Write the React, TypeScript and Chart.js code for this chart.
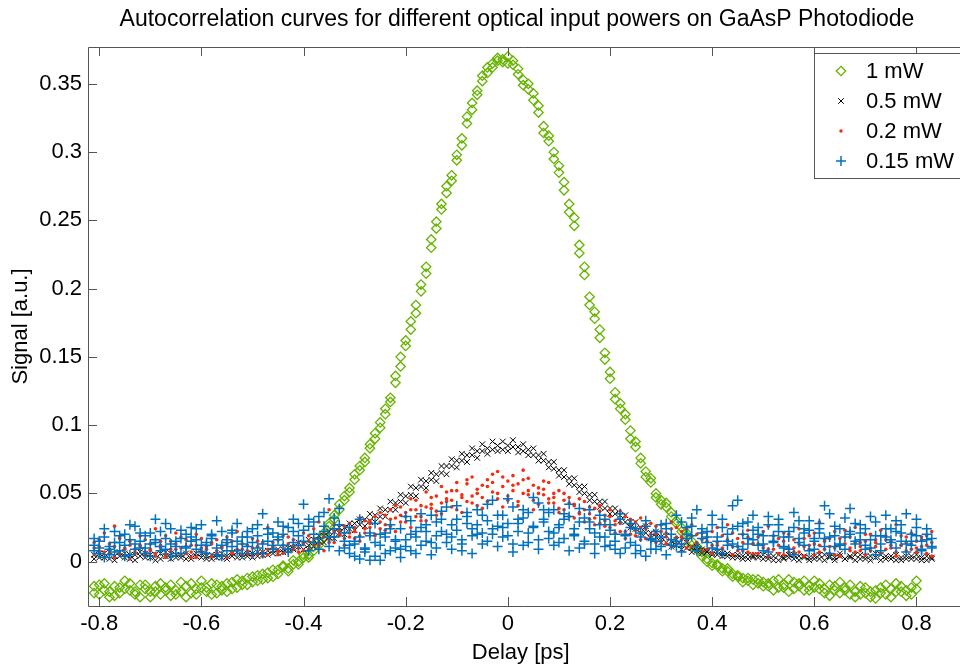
import React, { useEffect, useRef } from 'react';
import { Chart, registerables } from 'chart.js';

Chart.register(...registerables);

// ---------- data ----------
const delay = [
  -0.81, -0.8, -0.79, -0.78, -0.77, -0.76, -0.75, -0.74, -0.73, -0.72,
  -0.71, -0.7, -0.69, -0.68, -0.67, -0.66, -0.65, -0.64, -0.63, -0.62,
  -0.61, -0.6, -0.59, -0.58, -0.57, -0.56, -0.55, -0.54, -0.53, -0.52,
  -0.51, -0.5, -0.49, -0.48, -0.47, -0.46, -0.45, -0.44, -0.43, -0.42,
  -0.41, -0.4, -0.39, -0.38, -0.37, -0.36, -0.35, -0.34, -0.33, -0.32,
  -0.31, -0.3, -0.29, -0.28, -0.27, -0.26, -0.25, -0.24, -0.23, -0.22,
  -0.21, -0.2, -0.19, -0.18, -0.17, -0.16, -0.15, -0.14, -0.13, -0.12,
  -0.11, -0.1, -0.09, -0.08, -0.07, -0.06, -0.05, -0.04, -0.03, -0.02,
  -0.01, 0.0, 0.01, 0.02, 0.03, 0.04, 0.05, 0.06, 0.07, 0.08,
  0.09, 0.1, 0.11, 0.12, 0.13, 0.14, 0.15, 0.16, 0.17, 0.18,
  0.19, 0.2, 0.21, 0.22, 0.23, 0.24, 0.25, 0.26, 0.27, 0.28,
  0.29, 0.3, 0.31, 0.32, 0.33, 0.34, 0.35, 0.36, 0.37, 0.38,
  0.39, 0.4, 0.41, 0.42, 0.43, 0.44, 0.45, 0.46, 0.47, 0.48,
  0.49, 0.5, 0.51, 0.52, 0.53, 0.54, 0.55, 0.56, 0.57, 0.58,
  0.59, 0.6, 0.61, 0.62, 0.63, 0.64, 0.65, 0.66, 0.67, 0.68,
  0.69, 0.7, 0.71, 0.72, 0.73, 0.74, 0.75, 0.76, 0.77, 0.78,
  0.79, 0.8, 0.81, 0.82, 0.83,
];

// 1 mW (two scans)
const signal1mWScanA = [
  -0.018, -0.024, -0.016, -0.022, -0.025, -0.019, -0.014, -0.021, -0.024, -0.017,
  -0.020, -0.026, -0.022, -0.016, -0.019, -0.025, -0.021, -0.015, -0.018, -0.023,
  -0.020, -0.014, -0.019, -0.024, -0.017, -0.021, -0.016, -0.020, -0.013, -0.017,
  -0.012, -0.015, -0.010, -0.013, -0.008, -0.011, -0.006, -0.004, -0.007, -0.002,
  0.000, 0.003, 0.005, 0.008, 0.012, 0.018, 0.026, 0.034, 0.042, 0.048,
  0.054, 0.060, 0.067, 0.076, 0.083, 0.090, 0.098, 0.108, 0.120, 0.131,
  0.150, 0.158, 0.170, 0.188, 0.198, 0.216, 0.230, 0.244, 0.258, 0.270,
  0.283, 0.294, 0.310, 0.321, 0.331, 0.342, 0.352, 0.362, 0.365, 0.367,
  0.366, 0.370, 0.364, 0.357, 0.353, 0.350, 0.338, 0.329, 0.319, 0.308,
  0.300, 0.290, 0.272, 0.262, 0.246, 0.226, 0.210, 0.194, 0.178, 0.164,
  0.148, 0.134, 0.124, 0.116, 0.104, 0.096, 0.084, 0.076, 0.066, 0.058,
  0.050, 0.045, 0.040, 0.036, 0.030, 0.025, 0.019, 0.015, 0.011, 0.007,
  0.002, -0.001, -0.003, -0.005, -0.007, -0.009, -0.011, -0.012, -0.014, -0.013,
  -0.016, -0.015, -0.018, -0.014, -0.019, -0.017, -0.013, -0.020, -0.016, -0.021,
  -0.018, -0.014, -0.020, -0.023, -0.017, -0.021, -0.015, -0.019, -0.024, -0.022,
  -0.018, -0.023, -0.026, -0.021, -0.019, -0.024, -0.020, -0.016, -0.022, -0.025,
  -0.019, -0.014, null, null, null,
];
const signal1mWScanB = [
  -0.023, -0.017, -0.021, -0.026, -0.018, -0.023, -0.020, -0.016, -0.022, -0.026,
  -0.017, -0.022, -0.018, -0.024, -0.021, -0.017, -0.024, -0.022, -0.026, -0.016,
  -0.024, -0.019, -0.022, -0.016, -0.023, -0.018, -0.022, -0.015, -0.019, -0.014,
  -0.017, -0.011, -0.014, -0.009, -0.012, -0.006, -0.009, -0.003, -0.005, 0.001,
  -0.002, 0.005, 0.003, 0.011, 0.015, 0.021, 0.028, 0.031, 0.038, 0.045,
  0.051, 0.064, 0.070, 0.073, 0.086, 0.094, 0.102, 0.112, 0.117, 0.136,
  0.143, 0.162, 0.176, 0.182, 0.203, 0.211, 0.236, 0.249, 0.262, 0.275,
  0.279, 0.298, 0.305, 0.326, 0.336, 0.345, 0.356, 0.358, 0.362, 0.369,
  0.368, 0.365, 0.367, 0.361, 0.349, 0.346, 0.343, 0.334, 0.314, 0.312,
  0.295, 0.285, 0.278, 0.256, 0.252, 0.232, 0.216, 0.188, 0.183, 0.170,
  0.153, 0.139, 0.119, 0.112, 0.108, 0.090, 0.088, 0.072, 0.062, 0.061,
  0.047, 0.042, 0.043, 0.033, 0.028, 0.022, 0.021, 0.012, 0.009, 0.004,
  0.000, -0.003, -0.002, -0.007, -0.005, -0.011, -0.010, -0.015, -0.012, -0.017,
  -0.013, -0.018, -0.016, -0.021, -0.013, -0.019, -0.022, -0.015, -0.018, -0.014,
  -0.021, -0.019, -0.016, -0.020, -0.025, -0.018, -0.023, -0.021, -0.017, -0.026,
  -0.024, -0.019, -0.022, -0.027, -0.023, -0.017, -0.026, -0.022, -0.018, -0.021,
  -0.024, -0.020, null, null, null,
];

// 0.5 mW (two scans)
const signal05mWScanA = [
  0.005, 0.003, 0.006, 0.002, 0.004, 0.007, 0.003, 0.005, 0.001, 0.004,
  0.006, 0.003, 0.005, 0.002, 0.004, 0.006, 0.003, 0.005, 0.002, 0.004,
  0.006, 0.003, 0.004, 0.002, 0.005, 0.003, 0.004, 0.006, 0.003, 0.005,
  0.004, 0.006, 0.004, 0.007, 0.005, 0.008, 0.006, 0.009, 0.008, 0.010,
  0.011, 0.013, 0.012, 0.016, 0.015, 0.019, 0.018, 0.022, 0.021, 0.025,
  0.024, 0.028, 0.027, 0.031, 0.030, 0.034, 0.033, 0.038, 0.038, 0.043,
  0.044, 0.048, 0.049, 0.054, 0.055, 0.059, 0.060, 0.064, 0.065, 0.070,
  0.070, 0.074, 0.074, 0.078, 0.078, 0.081, 0.081, 0.083, 0.082, 0.085,
  0.082, 0.085, 0.084, 0.084, 0.081, 0.082, 0.078, 0.078, 0.074, 0.073,
  0.068, 0.067, 0.062, 0.061, 0.056, 0.055, 0.050, 0.049, 0.044, 0.044,
  0.039, 0.039, 0.035, 0.034, 0.029, 0.029, 0.024, 0.025, 0.021, 0.021,
  0.018, 0.018, 0.014, 0.015, 0.012, 0.012, 0.010, 0.010, 0.008, 0.009,
  0.007, 0.006, 0.005, 0.006, 0.004, 0.005, 0.003, 0.004, 0.002, 0.004,
  0.003, 0.005, 0.002, 0.004, 0.001, 0.003, 0.005, 0.002, 0.004, 0.003,
  0.001, 0.004, 0.002, 0.005, 0.003, 0.001, 0.004, 0.002, 0.003, 0.005,
  0.002, 0.004, 0.001, 0.003, 0.005, 0.002, 0.004, 0.001, 0.003, 0.002,
  0.004, 0.002, 0.003, 0.001, 0.003,
];
const signal05mWScanB = [
  0.002, 0.006, 0.003, 0.007, 0.001, 0.004, 0.006, 0.002, 0.005, 0.007,
  0.003, 0.005, 0.001, 0.006, 0.007, 0.002, 0.005, 0.003, 0.006, 0.002,
  0.004, 0.006, 0.002, 0.005, 0.003, 0.006, 0.002, 0.004, 0.007, 0.003,
  0.006, 0.003, 0.007, 0.005, 0.008, 0.006, 0.009, 0.007, 0.010, 0.009,
  0.014, 0.009, 0.016, 0.011, 0.019, 0.014, 0.022, 0.017, 0.025, 0.020,
  0.028, 0.023, 0.031, 0.026, 0.035, 0.029, 0.039, 0.033, 0.044, 0.038,
  0.049, 0.043, 0.055, 0.048, 0.060, 0.054, 0.065, 0.059, 0.070, 0.064,
  0.075, 0.069, 0.079, 0.073, 0.083, 0.076, 0.086, 0.079, 0.088, 0.081,
  0.088, 0.081, 0.089, 0.080, 0.086, 0.078, 0.083, 0.074, 0.079, 0.069,
  0.073, 0.063, 0.067, 0.057, 0.061, 0.051, 0.055, 0.045, 0.049, 0.040,
  0.044, 0.035, 0.039, 0.030, 0.034, 0.025, 0.029, 0.021, 0.026, 0.017,
  0.022, 0.014, 0.019, 0.011, 0.016, 0.009, 0.014, 0.007, 0.011, 0.006,
  0.008, 0.005, 0.007, 0.004, 0.006, 0.003, 0.005, 0.002, 0.005, 0.003,
  0.005, 0.002, 0.004, 0.001, 0.005, 0.002, 0.003, 0.005, 0.001, 0.004,
  0.003, 0.002, 0.005, 0.001, 0.004, 0.003, 0.006, 0.002, 0.004, 0.001,
  0.005, 0.002, 0.004, 0.006, 0.001, 0.004, 0.002, 0.005, 0.001, 0.004,
  0.002, 0.005, 0.001, 0.004, 0.002,
];

// 0.2 mW (three scans)
const signal02mWScanA = [
  0.014, 0.008, 0.021, 0.006, 0.011, 0.017, 0.004, 0.012, 0.009, 0.019,
  0.007, 0.013, 0.024, 0.010, 0.005, 0.015, 0.009, 0.018, 0.006, 0.012,
  0.020, 0.008, 0.011, 0.004, 0.016, 0.010, 0.013, 0.007, 0.022, 0.009,
  0.012, 0.017, 0.006, 0.014, 0.025, 0.011, 0.008, 0.019, 0.013, 0.016,
  0.010, 0.021, 0.015, 0.012, 0.029, 0.018, 0.014, 0.022, 0.019, 0.026,
  0.021, 0.017, 0.032, 0.024, 0.028, 0.020, 0.036, 0.027, 0.031, 0.041,
  0.034, 0.029, 0.046, 0.038, 0.033, 0.051, 0.042, 0.037, 0.055, 0.046,
  0.040, 0.058, 0.049, 0.044, 0.062, 0.053, 0.047, 0.060, 0.051, 0.066,
  0.055, 0.048, 0.063, 0.057, 0.050, 0.061, 0.045, 0.054, 0.049, 0.058,
  0.043, 0.052, 0.038, 0.047, 0.041, 0.035, 0.044, 0.031, 0.039, 0.028,
  0.034, 0.025, 0.030, 0.037, 0.022, 0.027, 0.019, 0.032, 0.024, 0.018,
  0.026, 0.015, 0.021, 0.029, 0.013, 0.018, 0.024, 0.011, 0.020, 0.016,
  0.009, 0.022, 0.014, 0.019, 0.027, 0.011, 0.017, 0.008, 0.023, 0.013,
  0.018, 0.010, 0.026, 0.015, 0.012, 0.021, 0.007, 0.016, 0.024, 0.011,
  0.019, 0.013, 0.029, 0.009, 0.017, 0.022, 0.012, 0.018, 0.008, 0.025,
  0.014, 0.020, 0.010, 0.016, 0.023, 0.009, 0.015, 0.027, 0.012, 0.018,
  0.021, 0.010, 0.016, 0.006, 0.022,
];
const signal02mWScanB = [
  0.005, 0.011, 0.003, 0.009, 0.026, 0.006, 0.010, 0.002, 0.007, 0.012,
  0.004, 0.008, 0.006, 0.015, 0.003, 0.009, 0.021, 0.005, 0.011, 0.007,
  0.003, 0.010, 0.006, 0.013, 0.008, 0.004, 0.018, 0.006, 0.009, 0.005,
  0.008, 0.004, 0.011, 0.007, 0.005, 0.010, 0.016, 0.006, 0.009, 0.012,
  0.007, 0.013, 0.009, 0.017, 0.011, 0.008, 0.038, 0.014, 0.020, 0.012,
  0.018, 0.025, 0.015, 0.021, 0.030, 0.019, 0.024, 0.034, 0.026, 0.022,
  0.029, 0.036, 0.025, 0.033, 0.041, 0.030, 0.039, 0.048, 0.035, 0.044,
  0.052, 0.038, 0.047, 0.057, 0.043, 0.050, 0.039, 0.055, 0.064, 0.046,
  0.040, 0.059, 0.052, 0.044, 0.067, 0.049, 0.056, 0.042, 0.053, 0.046,
  0.050, 0.039, 0.045, 0.033, 0.042, 0.036, 0.029, 0.040, 0.032, 0.037,
  0.026, 0.033, 0.021, 0.028, 0.017, 0.031, 0.023, 0.016, 0.027, 0.020,
  0.014, 0.022, 0.018, 0.011, 0.025, 0.016, 0.010, 0.019, 0.013, 0.008,
  0.015, 0.006, 0.012, 0.009, 0.016, 0.005, 0.011, 0.020, 0.007, 0.013,
  0.006, 0.012, 0.004, 0.009, 0.017, 0.005, 0.010, 0.007, 0.013, 0.004,
  0.009, 0.005, 0.012, 0.016, 0.006, 0.010, 0.004, 0.013, 0.018, 0.007,
  0.011, 0.005, 0.008, 0.014, 0.006, 0.019, 0.010, 0.004, 0.012, 0.008,
  0.013, 0.007, 0.018, 0.012, 0.004,
];
const signal02mWScanC = [
  0.010, 0.016, 0.007, 0.013, 0.003, 0.018, 0.009, 0.015, 0.006, 0.011,
  0.016, 0.009, 0.004, 0.012, 0.019, 0.007, 0.013, 0.010, 0.016, 0.003,
  0.012, 0.017, 0.009, 0.014, 0.006, 0.011, 0.003, 0.015, 0.008, 0.013,
  0.006, 0.010, 0.015, 0.004, 0.009, 0.014, 0.005, 0.012, 0.018, 0.009,
  0.014, 0.008, 0.019, 0.024, 0.013, 0.021, 0.016, 0.027, 0.023, 0.017,
  0.028, 0.022, 0.019, 0.030, 0.025, 0.033, 0.029, 0.023, 0.038, 0.032,
  0.040, 0.033, 0.038, 0.045, 0.030, 0.040, 0.047, 0.034, 0.043, 0.051,
  0.045, 0.052, 0.036, 0.060, 0.048, 0.041, 0.056, 0.044, 0.058, 0.050,
  0.062, 0.045, 0.056, 0.041, 0.060, 0.052, 0.038, 0.050, 0.059, 0.043,
  0.047, 0.036, 0.050, 0.043, 0.032, 0.046, 0.038, 0.035, 0.027, 0.041,
  0.030, 0.038, 0.027, 0.022, 0.033, 0.020, 0.029, 0.025, 0.017, 0.028,
  0.020, 0.027, 0.013, 0.024, 0.018, 0.022, 0.015, 0.027, 0.014, 0.021,
  0.018, 0.012, 0.025, 0.010, 0.015, 0.021, 0.008, 0.014, 0.018, 0.006,
  0.013, 0.022, 0.009, 0.019, 0.006, 0.015, 0.020, 0.010, 0.007, 0.017,
  0.012, 0.021, 0.007, 0.015, 0.011, 0.005, 0.017, 0.023, 0.010, 0.014,
  0.008, 0.015, 0.020, 0.011, 0.006, 0.016, 0.012, 0.007, 0.019, 0.014,
  0.009, 0.015, 0.011, 0.019, 0.014,
];

// 0.15 mW (three scans)
const signal015mWScanA = [
  0.012, 0.006, 0.018, 0.009, 0.022, 0.014, 0.004, 0.016, 0.026, 0.010,
  0.019, 0.013, 0.031, 0.008, 0.017, 0.024, 0.011, 0.006, 0.020, 0.015,
  0.009, 0.027, 0.014, 0.019, 0.005, 0.022, 0.016, 0.011, 0.028, 0.013,
  0.018, 0.024, 0.010, 0.035, 0.015, 0.021, 0.029, 0.012, 0.025, 0.031,
  0.019, 0.042, 0.026, 0.014, 0.033, 0.022, 0.046, 0.018, 0.027, 0.010,
  0.006, 0.015, 0.002, 0.009, 0.019, 0.004, 0.012, 0.021, 0.008, 0.016,
  0.024, 0.011, 0.030, 0.018, 0.035, 0.022, 0.014, 0.029, 0.037, 0.020,
  0.027, 0.041, 0.016, 0.033, 0.024, 0.038, 0.021, 0.030, 0.045, 0.026,
  0.034, 0.019, 0.040, 0.028, 0.012, 0.036, 0.025, 0.043, 0.031, 0.022,
  0.038, 0.027, 0.017, 0.033, 0.024, 0.039, 0.015, 0.029, 0.021, 0.034,
  0.018, 0.027, 0.009, 0.031, 0.020, 0.014, 0.024, 0.008, 0.026, 0.017,
  0.022, 0.011, 0.028, 0.016, 0.034, 0.013, 0.025, 0.019, 0.038, 0.021,
  0.014, 0.027, 0.018, 0.031, 0.012, 0.024, 0.045, 0.020, 0.029, 0.016,
  0.025, 0.013, 0.033, 0.019, 0.027, 0.011, 0.022, 0.036, 0.017, 0.024,
  0.030, 0.015, 0.021, 0.041, 0.018, 0.026, 0.012, 0.032, 0.020, 0.028,
  0.016, 0.024, 0.010, 0.029, 0.019, 0.034, 0.014, 0.022, 0.027, 0.013,
  0.020, 0.031, 0.015, 0.024, 0.011,
];
const signal015mWScanB = [
  0.008, 0.015, 0.003, 0.011, 0.007, 0.019, 0.012, 0.005, 0.013, 0.021,
  0.010, 0.004, 0.014, 0.022, 0.009, 0.013, 0.006, 0.017, 0.011, 0.025,
  0.016, 0.007, 0.012, 0.020, 0.010, 0.004, 0.014, 0.023, 0.008, 0.018,
  0.011, 0.006, 0.019, 0.013, 0.024, 0.009, 0.016, 0.020, 0.007, 0.014,
  0.012, 0.023, 0.008, 0.029, 0.017, 0.036, 0.011, 0.024, 0.039, 0.015,
  0.025, 0.013, 0.031, 0.007, 0.021, 0.028, 0.001, 0.018, 0.024, 0.010,
  0.003, 0.016, 0.008, 0.022, 0.012, 0.027, 0.005, 0.019, 0.031, 0.014,
  0.009, 0.023, 0.013, 0.028, 0.006, 0.020, 0.034, 0.015, 0.024, 0.011,
  0.018, 0.028, 0.007, 0.022, 0.032, 0.014, 0.026, 0.009, 0.038, 0.017,
  0.012, 0.025, 0.031, 0.008, 0.020, 0.029, 0.013, 0.024, 0.006, 0.018,
  0.011, 0.023, 0.015, 0.006, 0.019, 0.028, 0.012, 0.021, 0.004, 0.016,
  0.009, 0.018, 0.024, 0.012, 0.015, 0.007, 0.020, 0.026, 0.011, 0.017,
  0.022, 0.010, 0.015, 0.006, 0.020, 0.013, 0.026, 0.009, 0.017, 0.023,
  0.012, 0.019, 0.007, 0.015, 0.022, 0.010, 0.018, 0.005, 0.014, 0.021,
  0.008, 0.017, 0.024, 0.011, 0.006, 0.019, 0.013, 0.009, 0.022, 0.015,
  0.021, 0.009, 0.016, 0.005, 0.013, 0.018, 0.024, 0.010, 0.015, 0.007,
  0.012, 0.019, 0.008, 0.016, 0.010,
];
const signal015mWScanC = [
  0.017, 0.010, 0.024, 0.005, 0.014, 0.008, 0.020, 0.027, 0.009, 0.015,
  0.006, 0.021, 0.016, 0.011, 0.028, 0.004, 0.015, 0.023, 0.010, 0.018,
  0.024, 0.012, 0.006, 0.017, 0.030, 0.012, 0.008, 0.021, 0.015, 0.006,
  0.022, 0.014, 0.027, 0.006, 0.020, 0.012, 0.018, 0.026, 0.009, 0.022,
  0.028, 0.015, 0.031, 0.020, 0.009, 0.026, 0.018, 0.032, 0.008, 0.021,
  0.012, 0.004, 0.018, 0.010, 0.001, 0.014, 0.020, 0.006, 0.027, 0.015,
  0.009, 0.033, 0.020, 0.006, 0.025, 0.015, 0.034, 0.010, 0.022, 0.040,
  0.018, 0.031, 0.008, 0.036, 0.019, 0.027, 0.013, 0.042, 0.020, 0.034,
  0.025, 0.046, 0.013, 0.031, 0.038, 0.021, 0.047, 0.016, 0.029, 0.036,
  0.021, 0.014, 0.035, 0.042, 0.019, 0.010, 0.032, 0.038, 0.013, 0.027,
  0.031, 0.012, 0.020, 0.035, 0.010, 0.025, 0.006, 0.018, 0.030, 0.009,
  0.015, 0.027, 0.005, 0.020, 0.011, 0.029, 0.017, 0.032, 0.008, 0.024,
  0.018, 0.034, 0.009, 0.025, 0.015, 0.041, 0.011, 0.028, 0.013, 0.034,
  0.020, 0.008, 0.027, 0.014, 0.031, 0.018, 0.009, 0.025, 0.030, 0.012,
  0.023, 0.009, 0.028, 0.017, 0.035, 0.011, 0.024, 0.018, 0.039, 0.013,
  0.027, 0.012, 0.033, 0.019, 0.008, 0.024, 0.016, 0.030, 0.021, 0.035,
  0.015, 0.025, 0.009, 0.020, 0.017,
];

const seriesLabels = ['1 mW', '0.5 mW', '0.2 mW', '0.15 mW'];
const xTickValues = [-0.8, -0.6, -0.4, -0.2, 0, 0.2, 0.4, 0.6, 0.8];
const xTickLabels = ['-0.8', '-0.6', '-0.4', '-0.2', '0', '0.2', '0.4', '0.6', '0.8'];
const yTickValues = [0, 0.05, 0.1, 0.15, 0.2, 0.25, 0.3, 0.35];
const yTickLabels = ['0', '0.05', '0.1', '0.15', '0.2', '0.25', '0.3', '0.35'];
const titleText = 'Autocorrelation curves for different optical input powers on GaAsP Photodiode';
const xTitle = 'Delay [ps]';
const yTitle = 'Signal [a.u.]';

// ---------- styles ----------
const X_MIN = -0.822;
const X_MAX = 0.8725;
const Y_MIN = -0.0325;
const Y_MAX = 0.377;
const FONT = '"Liberation Sans", Arial, Helvetica, sans-serif';
const GREEN = 'rgb(102,180,0)';
const BLACK = '#000000';
const RED = 'rgb(245,45,15)';
const BLUE = 'rgb(0,114,189)';
const AXIS = '#555555';

function toPoints(ys: (number | null)[]) {
  const out: { x: number; y: number }[] = [];
  for (let i = 0; i < delay.length; i++) {
    const v = ys[i];
    if (v !== null && v !== undefined) out.push({ x: delay[i], y: v });
  }
  return out;
}

function labelFor(values: number[], labels: string[], v: number) {
  const i = values.findIndex((t) => Math.abs(t - v) < 1e-9);
  return i >= 0 ? labels[i] : '';
}

const framePlugin = {
  id: 'matlabFrame',
  afterDatasetsDraw(chart: any) {
    const { ctx, chartArea, scales } = chart;
    const { left, right, top, bottom } = chartArea;
    ctx.save();
    ctx.strokeStyle = AXIS;
    ctx.lineWidth = 1;
    ctx.beginPath();
    ctx.moveTo(right + 20, top + 0.5);
    ctx.lineTo(left + 0.5, top + 0.5);
    ctx.lineTo(left + 0.5, bottom + 0.5);
    ctx.lineTo(right + 20, bottom + 0.5);
    const tl = 9;
    xTickValues.forEach((v) => {
      const px = Math.round(scales.x.getPixelForValue(v)) + 0.5;
      ctx.moveTo(px, bottom);
      ctx.lineTo(px, bottom - tl);
      ctx.moveTo(px, top);
      ctx.lineTo(px, top + tl);
    });
    yTickValues.forEach((v) => {
      const py = Math.round(scales.y.getPixelForValue(v)) + 0.5;
      ctx.moveTo(left, py);
      ctx.lineTo(left + tl, py);
    });
    ctx.stroke();
    ctx.restore();
  },
  afterDraw(chart: any) {
    const { ctx } = chart;
    ctx.save();
    ctx.fillStyle = '#000';
    ctx.font = `23px ${FONT}`;
    ctx.textAlign = 'center';
    ctx.textBaseline = 'alphabetic';
    ctx.fillText(titleText, 517, 26);

    const bx = 814.5, by = 53.5, bw = 160, bh = 125;
    ctx.fillStyle = '#ffffff';
    ctx.fillRect(bx, by, bw, bh);
    ctx.strokeStyle = AXIS;
    ctx.lineWidth = 1;
    ctx.strokeRect(bx, by, bw, bh);

    const rows = [71, 101, 131, 161];
    const mx = 841;
    rows.forEach((ry, i) => {
      ctx.save();
      if (i === 0) {
        ctx.strokeStyle = GREEN;
        ctx.lineWidth = 1.3;
        ctx.beginPath();
        ctx.moveTo(mx, ry - 4.7);
        ctx.lineTo(mx + 4.7, ry);
        ctx.lineTo(mx, ry + 4.7);
        ctx.lineTo(mx - 4.7, ry);
        ctx.closePath();
        ctx.stroke();
      } else if (i === 1) {
        ctx.strokeStyle = BLACK;
        ctx.lineWidth = 1;
        ctx.beginPath();
        ctx.moveTo(mx - 2.8, ry - 2.8);
        ctx.lineTo(mx + 2.8, ry + 2.8);
        ctx.moveTo(mx + 2.8, ry - 2.8);
        ctx.lineTo(mx - 2.8, ry + 2.8);
        ctx.stroke();
      } else if (i === 2) {
        ctx.fillStyle = RED;
        ctx.beginPath();
        ctx.arc(mx, ry, 1.7, 0, Math.PI * 2);
        ctx.fill();
      } else {
        ctx.strokeStyle = BLUE;
        ctx.lineWidth = 1.5;
        ctx.beginPath();
        ctx.moveTo(mx - 5, ry);
        ctx.lineTo(mx + 5, ry);
        ctx.moveTo(mx, ry - 5);
        ctx.lineTo(mx, ry + 5);
        ctx.stroke();
      }
      ctx.restore();
      ctx.fillStyle = '#000';
      ctx.font = `22px ${FONT}`;
      ctx.textAlign = 'left';
      ctx.textBaseline = 'middle';
      ctx.fillText(seriesLabels[i], 866, ry + 1);
    });
    ctx.restore();
  },
};

export default function App() {
  const canvasRef = useRef<HTMLCanvasElement | null>(null);

  useEffect(() => {
    const canvas = canvasRef.current;
    if (!canvas) return;
    const tickFont = { family: FONT, size: 22 };
    const chart = new Chart(canvas, {
      type: 'scatter',
      data: {
        datasets: [
          {
            label: seriesLabels[0],
            data: [...toPoints(signal1mWScanA), ...toPoints(signal1mWScanB)],
            pointStyle: 'rectRot',
            pointRadius: 4.7,
            borderColor: GREEN,
            backgroundColor: 'rgba(0,0,0,0)',
            borderWidth: 1.3,
            order: 4,
          },
          {
            label: seriesLabels[1],
            data: [...toPoints(signal05mWScanA), ...toPoints(signal05mWScanB)],
            pointStyle: 'crossRot',
            pointRadius: 4,
            borderColor: BLACK,
            backgroundColor: BLACK,
            borderWidth: 1,
            order: 3,
          },
          {
            label: seriesLabels[2],
            data: [
              ...toPoints(signal02mWScanA),
              ...toPoints(signal02mWScanB),
              ...toPoints(signal02mWScanC),
            ],
            pointStyle: 'circle',
            pointRadius: 1.8,
            borderColor: RED,
            backgroundColor: RED,
            borderWidth: 0,
            order: 2,
          },
          {
            label: seriesLabels[3],
            data: [
              ...toPoints(signal015mWScanA),
              ...toPoints(signal015mWScanB),
              ...toPoints(signal015mWScanC),
            ],
            pointStyle: 'cross',
            pointRadius: 5,
            borderColor: BLUE,
            backgroundColor: BLUE,
            borderWidth: 1.5,
            order: 1,
          },
        ],
      },
      options: {
        animation: false,
        responsive: false,
        events: [],
        layout: { padding: { top: 47, left: 0, right: 0, bottom: 0 } },
        plugins: {
          legend: { display: false },
          title: { display: false },
          tooltip: { enabled: false },
        },
        scales: {
          x: {
            type: 'linear',
            min: X_MIN,
            max: X_MAX,
            grid: { display: false, drawTicks: false },
            border: { display: false },
            ticks: {
              font: tickFont,
              color: '#000',
              padding: 5,
              maxRotation: 0,
              autoSkip: false,
              callback: (v: any) => labelFor(xTickValues, xTickLabels, Number(v)),
            },
            afterBuildTicks: (s: any) => {
              s.ticks = xTickValues.map((v) => ({ value: v }));
            },
            afterFit: (s: any) => {
              s.height = 62;
            },
            title: {
              display: true,
              text: xTitle,
              color: '#000',
              font: { family: FONT, size: 22 },
              padding: { top: 0, bottom: 2 },
            },
          },
          y: {
            type: 'linear',
            min: Y_MIN,
            max: Y_MAX,
            grid: { display: false, drawTicks: false },
            border: { display: false },
            ticks: {
              font: tickFont,
              color: '#000',
              padding: 6,
              autoSkip: false,
              callback: (v: any) => labelFor(yTickValues, yTickLabels, Number(v)),
            },
            afterBuildTicks: (s: any) => {
              s.ticks = yTickValues.map((v) => ({ value: v }));
            },
            afterFit: (s: any) => {
              s.width = 88;
            },
            title: {
              display: true,
              text: yTitle,
              color: '#000',
              font: { family: FONT, size: 22 },
              padding: { top: 8, bottom: 0 },
            },
          },
        },
      },
      plugins: [framePlugin],
    } as any);
    return () => chart.destroy();
  }, []);

  return (
    <div style={{ position: 'absolute', left: 0, top: 0, width: 960, height: 668, background: '#ffffff', overflow: 'hidden' }}>
      <canvas ref={canvasRef} width={960} height={668} style={{ width: 960, height: 668, display: 'block' }} />
    </div>
  );
}
